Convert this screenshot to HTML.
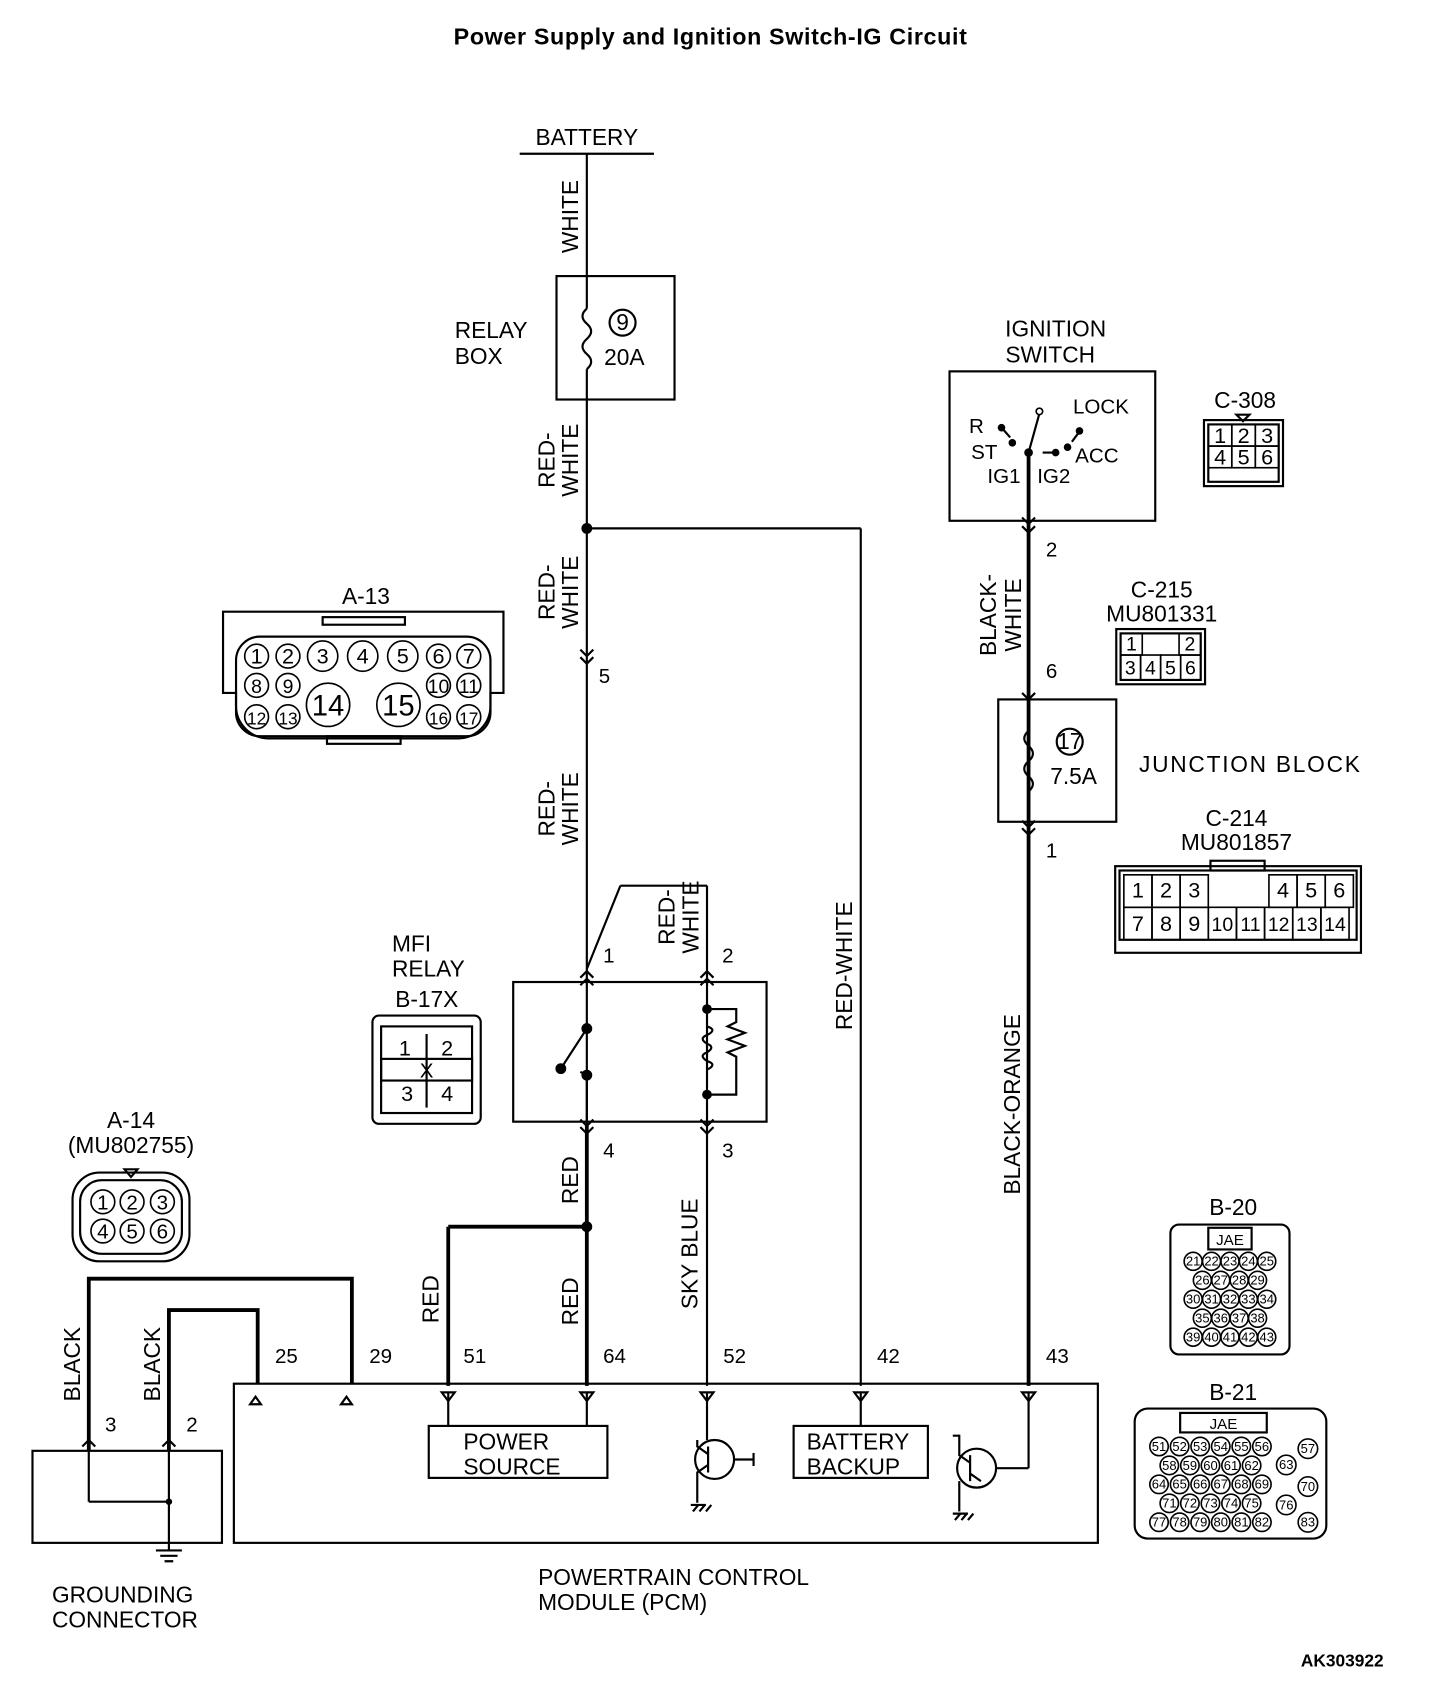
<!DOCTYPE html>
<html><head><meta charset="utf-8"><style>
html,body{margin:0;padding:0;background:#fff}
svg{display:block}
text{font-family:"Liberation Sans",Arial,sans-serif;fill:#000}
</style></head><body>
<svg id="s" width="1440" height="1694" viewBox="0 0 1330 1564.6" preserveAspectRatio="none" xmlns="http://www.w3.org/2000/svg">
<g fill="none" stroke="#000" stroke-width="2">
<line x1="480" y1="142" x2="604" y2="142"/>
<line x1="542" y1="142" x2="542" y2="285"/>
<rect x="514" y="255" width="109" height="114"/>
<path d="M542 285 q-8 7 0 14 q8 7 0 14 q-8 7 0 14 q8 7 0 14"/>
<circle cx="575" cy="298" r="12"/>
<line x1="542" y1="341" x2="542" y2="1130"/>
<line x1="542" y1="488" x2="795" y2="488"/>
<line x1="795" y1="488" x2="795" y2="1280"/>
<path d="M536 600 l6 6 l6 -6 M536 607 l6 6 l6 -6"/>
<line x1="542" y1="895" x2="573" y2="818"/>
<line x1="573" y1="818" x2="653" y2="818"/>
<line x1="653" y1="818" x2="653" y2="1280"/>
<path d="M536 903 l6 -6 l6 6 M536 910 l6 -6 l6 6 M647 903 l6 -6 l6 6 M647 910 l6 -6 l6 6"/>
<rect x="474" y="907" width="234" height="129"/>
<line x1="542" y1="950" x2="518" y2="987"/>
<line x1="542" y1="993" x2="542" y2="1036"/>
<line x1="536" y1="990" x2="542" y2="993"/>
<path d="M653 932 L680 932 L680 944 l-8 4 l16 6 l-16 6 l16 6 l-16 6 l8 4 L680 1011 L653 1011"/>
<path d="M653 948 q10 3 0 8 q-8 3 0 8 q8 3 0 8 q-8 3 0 8 q10 3 0 8"/>
<path d="M536 1034 l6 6 l6 -6 M536 1041 l6 6 l6 -6 M647 1034 l6 6 l6 -6 M647 1041 l6 6 l6 -6"/>
<rect x="877" y="343" width="190" height="138"/>
<line x1="950" y1="418" x2="960" y2="382"/>
<line x1="926" y1="396" x2="933" y2="404"/>
<line x1="963" y1="418" x2="972" y2="418"/>
<line x1="990" y1="408" x2="996" y2="400"/>
<path d="M944 478 l6 6 l6 -6 M944 486 l6 6 l6 -6"/>
<path d="M944 640 l6 6 l6 -6"/>
<rect x="922" y="646" width="109" height="113"/>
<path d="M950 675 q-8 7 0 14 q8 7 0 14 q-8 7 0 14 q8 7 0 14"/>
<circle cx="988" cy="685" r="12"/>
<path d="M944 758 l6 6 l6 -6 M944 765 l6 6 l6 -6"/>
<rect x="216" y="1278" width="798" height="147"/>
<path d="M236 1290 l5 7 l-10 0 z M320 1290 l5 7 l-10 0 z"/>
<line x1="414" y1="1286" x2="414" y2="1317"/><line x1="542" y1="1286" x2="542" y2="1317"/>
<path d="M408 1286 l6 8 l6 -8 z M536 1286 l6 8 l6 -8 z M647 1286 l6 8 l6 -8 z M789 1286 l6 8 l6 -8 z M944 1286 l6 8 l6 -8 z"/>
<line x1="795" y1="1286" x2="795" y2="1317"/>
<rect x="396" y="1317" width="165" height="48"/>
<rect x="733" y="1317" width="124" height="48"/>
<line x1="653" y1="1286" x2="653" y2="1330"/>
<circle cx="660" cy="1348" r="18"/>
<path d="M654 1336 v24 M654 1343 l-10 -7 v-6 M654 1353 l-10 7 v28 M678 1348 h18 M696 1342 v12 M638 1390 h14 M640 1396 l5 -6 M646 1396 l5 -6 M652 1396 l5 -6"/>
<line x1="950" y1="1286" x2="950" y2="1356"/><line x1="950" y1="1356" x2="920" y2="1356"/>
<circle cx="902" cy="1356" r="18"/>
<path d="M896 1344 v24 M896 1351 l-10 -7 v-18 l-6 0 M896 1361 l10 7 M886 1368 v28 M880 1398 h14 M882 1404 l5 -6 M888 1404 l5 -6 M894 1404 l5 -6"/>
<rect x="30" y="1340" width="175" height="85"/>
<line x1="82" y1="1340" x2="82" y2="1387"/><line x1="82" y1="1387" x2="156" y2="1387"/>
<line x1="156" y1="1340" x2="156" y2="1425"/>
<path d="M144 1432 h24 M148 1437 h16 M152 1442 h8"/>
<line x1="156" y1="1425" x2="156" y2="1432"/>
<path d="M76 1336 l6 -6 l6 6 M150 1336 l6 -6 l6 6"/>
<path d="M206 565 h259 v75 h-12 v12 a30 30 0 0 1 -30 30 h-175 a30 30 0 0 1 -30 -30 v-12 h-12 z"/>
<rect x="218" y="588" width="235" height="92" rx="22"/>
<rect x="298" y="570" width="76" height="7"/><rect x="302" y="680" width="68" height="7"/>
<rect x="344" y="938" width="100" height="100" rx="6"/>
<rect x="352" y="948" width="84" height="80"/>
<rect x="352" y="978" width="84" height="20"/>
<line x1="394" y1="955" x2="394" y2="1023"/>
<rect x="67" y="1083" width="108" height="82" rx="25"/>
<rect x="74" y="1090" width="94" height="68" rx="20"/>
<path d="M115 1080 l6 7 l6 -7 z"/>
<rect x="1112" y="388" width="73" height="61"/><rect x="1116" y="392" width="65" height="53"/>
<path d="M1142 383 l6 6 l6 -6 z"/>
<rect x="1031" y="581" width="82" height="51"/><rect x="1035" y="585" width="74" height="43"/>
<rect x="1030" y="800" width="227" height="80"/><rect x="1034" y="804" width="219" height="64"/>
<rect x="1118" y="795" width="50" height="9"/>
<rect x="1081" y="1131" width="110" height="120" rx="8"/>
<rect x="1048" y="1301" width="177" height="120" rx="12"/>
<rect x="1090" y="1305" width="80" height="18"/>
<rect x="1116" y="1134" width="40" height="20"/>
</g>
<g stroke="#000" stroke-width="3.5" fill="none">
<line x1="950" y1="418" x2="950" y2="1280"/>
<line x1="542" y1="1040" x2="542" y2="1280"/>
<line x1="414" y1="1133" x2="542" y2="1133"/><line x1="414" y1="1133" x2="414" y2="1280"/>
<path d="M325 1278 V1181 H82 V1340 M238 1278 V1210 H156 V1340"/>
</g>
<g fill="#000">
<circle cx="542" cy="488" r="5"/><circle cx="542" cy="1133" r="5"/>
<circle cx="542" cy="950" r="5"/><circle cx="518" cy="987" r="5"/><circle cx="542" cy="993" r="5"/>
<circle cx="653" cy="932" r="4.5"/><circle cx="653" cy="1011" r="4.5"/>
<circle cx="156" cy="1387" r="3"/><circle cx="950" cy="418" r="4"/>
<circle cx="925" cy="395" r="3.5"/><circle cx="935" cy="409" r="3.5"/><circle cx="975" cy="418" r="3.5"/>
<circle cx="986" cy="413" r="3.5"/><circle cx="997" cy="398" r="3.5"/>
</g>
<circle cx="960" cy="380" r="3" fill="#fff" stroke="#000" stroke-width="1.5"/>
<g font-size="21">
<text x="656" y="41" text-anchor="middle" font-weight="bold" font-size="21.5" textLength="474">Power Supply and Ignition Switch-IG Circuit</text>
<text x="542" y="134" text-anchor="middle">BATTERY</text>
<text x="420" y="312">RELAY</text><text x="420" y="336">BOX</text>
<text x="575" y="305" text-anchor="middle">9</text>
<text x="558" y="337">20A</text>
<text x="553" y="631" font-size="19">5</text>
<text x="557" y="889" font-size="19">1</text><text x="667" y="889" font-size="19">2</text>
<text x="557" y="1069" font-size="19">4</text><text x="667" y="1069" font-size="19">3</text>
<text x="975" y="311" text-anchor="middle">IGNITION</text><text x="970" y="335" text-anchor="middle">SWITCH</text>
<text x="991" y="382" font-size="19">LOCK</text><text x="895" y="400" font-size="19">R</text>
<text x="897" y="424" font-size="19">ST</text><text x="993" y="427" font-size="19">ACC</text>
<text x="912" y="446" font-size="19">IG1</text><text x="958" y="446" font-size="19">IG2</text>
<text x="966" y="514" font-size="19">2</text><text x="966" y="626" font-size="19">6</text><text x="966" y="792" font-size="19">1</text>
<text x="988" y="692" text-anchor="middle">17</text><text x="970" y="724">7.5A</text>
<text x="1052" y="713" textLength="204">JUNCTION  BLOCK</text>
<text x="1150" y="377" text-anchor="middle">C-308</text>
<text x="1073" y="552" text-anchor="middle">C-215</text><text x="1073" y="574" text-anchor="middle">MU801331</text>
<text x="1142" y="763" text-anchor="middle">C-214</text><text x="1142" y="785" text-anchor="middle">MU801857</text>
<text x="338" y="558" text-anchor="middle">A-13</text>
<text x="362" y="879">MFI</text><text x="362" y="902">RELAY</text><text x="365" y="930">B-17X</text>
<text x="121" y="1042" text-anchor="middle">A-14</text><text x="121" y="1065" text-anchor="middle">(MU802755)</text>
<text x="1139" y="1122" text-anchor="middle">B-20</text><text x="1139" y="1293" text-anchor="middle">B-21</text>
<text x="254" y="1259" font-size="19">25</text><text x="341" y="1259" font-size="19">29</text>
<text x="428" y="1259" font-size="19">51</text><text x="557" y="1259" font-size="19">64</text>
<text x="668" y="1259" font-size="19">52</text><text x="810" y="1259" font-size="19">42</text><text x="966" y="1259" font-size="19">43</text>
<text x="97" y="1322" font-size="19">3</text><text x="172" y="1322" font-size="19">2</text>
<text x="428" y="1339">POWER</text><text x="428" y="1362">SOURCE</text>
<text x="745" y="1339">BATTERY</text><text x="745" y="1362">BACKUP</text>
<text x="497" y="1464">POWERTRAIN CONTROL</text><text x="497" y="1487">MODULE (PCM)</text>
<text x="48" y="1480">GROUNDING</text><text x="48" y="1503">CONNECTOR</text>
<text x="1278" y="1539" text-anchor="end" font-weight="bold" font-size="16">AK303922</text>
</g>
<g font-size="21">
<text transform="translate(534,200) rotate(-90)" text-anchor="middle">WHITE</text>
<text transform="translate(512,425) rotate(-90)" text-anchor="middle">RED-</text>
<text transform="translate(534,425) rotate(-90)" text-anchor="middle">WHITE</text>
<text transform="translate(512,547) rotate(-90)" text-anchor="middle">RED-</text>
<text transform="translate(534,547) rotate(-90)" text-anchor="middle">WHITE</text>
<text transform="translate(512,747) rotate(-90)" text-anchor="middle">RED-</text>
<text transform="translate(534,747) rotate(-90)" text-anchor="middle">WHITE</text>
<text transform="translate(623,847) rotate(-90)" text-anchor="middle">RED-</text>
<text transform="translate(645,847) rotate(-90)" text-anchor="middle">WHITE</text>
<text transform="translate(787,892) rotate(-90)" text-anchor="middle">RED-WHITE</text>
<text transform="translate(920,568) rotate(-90)" text-anchor="middle">BLACK-</text>
<text transform="translate(943,568) rotate(-90)" text-anchor="middle">WHITE</text>
<text transform="translate(942,1020) rotate(-90)" text-anchor="middle">BLACK-ORANGE</text>
<text transform="translate(534,1090) rotate(-90)" text-anchor="middle">RED</text>
<text transform="translate(405,1200) rotate(-90)" text-anchor="middle">RED</text>
<text transform="translate(534,1202) rotate(-90)" text-anchor="middle">RED</text>
<text transform="translate(644,1158) rotate(-90)" text-anchor="middle">SKY BLUE</text>
<text transform="translate(74,1260) rotate(-90)" text-anchor="middle">BLACK</text>
<text transform="translate(148,1260) rotate(-90)" text-anchor="middle">BLACK</text>
</g>
<g id="dyn" fill="none" stroke="#000" stroke-width="1.5"></g>
<g id="dynt" font-size="18" text-anchor="middle"></g>
</svg>
<script>
var g=document.getElementById('dyn'),t=document.getElementById('dynt'),NS="http://www.w3.org/2000/svg";
function C(x,y,r){var e=document.createElementNS(NS,'circle');e.setAttribute('cx',x);e.setAttribute('cy',y);e.setAttribute('r',r);g.appendChild(e);}
function R(x,y,w,h){var e=document.createElementNS(NS,'rect');e.setAttribute('x',x);e.setAttribute('y',y);e.setAttribute('width',w);e.setAttribute('height',h);g.appendChild(e);}
function T(x,y,s,fs){var e=document.createElementNS(NS,'text');e.setAttribute('x',x);e.setAttribute('y',y);if(fs)e.setAttribute('font-size',fs);e.textContent=s;t.appendChild(e);}
[[237,1],[266,2],[298,3],[335,4],[372,5],[405,6],[433,7]].forEach(function(a){var r=a[1]<3||a[1]>5?11:14;C(a[0],606,r);T(a[0],613,a[1],20);});
[[237,8],[266,9],[405,10],[433,11]].forEach(function(a){C(a[0],633,11);T(a[0],640,a[1]);});
[[237,12],[266,13],[405,16],[433,17]].forEach(function(a){C(a[0],662,11);T(a[0],669,a[1],16);});
C(303,651,20);T(303,661,"14",27);C(368,651,20);T(368,661,"15",27);
T(374,975,"1",20);T(413,975,"2",20);T(394,995,"X",19);T(376,1017,"3",20);T(413,1017,"4",20);
[[95,1110,1],[122,1110,2],[150,1110,3],[95,1137,4],[122,1137,5],[150,1137,6]].forEach(function(a){C(a[0],a[1],11);T(a[0],a[1]+7,a[2],19);});
for(var i=0;i<6;i++){var x=1116+(i%3)*21.7,y=392+Math.floor(i/3)*20;R(x,y,21.7,20);T(x+11,y+17,i+1,20);}
[[1035,1],[1089,2]].forEach(function(a){R(a[0],585,20,20);T(a[0]+10,601,a[1]);});
[3,4,5,6].forEach(function(n,i){R(1035+i*18.5,605,18.5,23);T(1044+i*18.5,623,n);});
var xs=[1038,1064,1090,1172,1198,1224];[1,2,3,4,5,6].forEach(function(n,i){R(xs[i],808,26,30);T(xs[i]+13,829,n,20);});
var xs2=[1038,1064,1090,1116,1142,1168,1194,1220];[7,8,9,10,11,12,13,14].forEach(function(n,i){R(xs2[i],838,26,30);T(xs2[i]+13,860,n,n>9?18:20);});
T(1136,1150,"JAE",14);
var rows=[[21,22,23,24,25],[26,27,28,29],[30,31,32,33,34],[35,36,37,38],[39,40,41,42,43]];
rows.forEach(function(r,j){var n=r.length,x0=1136-(n-1)*8.5;r.forEach(function(v,k){C(x0+k*17,1165+j*17.5,8.3);T(x0+k*17,1169+j*17.5,v,12);});});
T(1130,1320,"JAE",14);
var r2=[[51,52,53,54,55,56],[58,59,60,61,62],[64,65,66,67,68,69],[71,72,73,74,75],[77,78,79,80,81,82]];
r2.forEach(function(r,j){var n=r.length,x0=1118-(n-1)*9.5;r.forEach(function(v,k){C(x0+k*19,1336+j*17.5,8.5);T(x0+k*19,1340+j*17.5,v,12);});});
[[1208,1338,57],[1188,1353,63],[1208,1373,70],[1188,1390,76],[1208,1406,83]].forEach(function(a){C(a[0],a[1],9);T(a[0],a[1]+4,a[2],12);});
</script>
</body></html>
